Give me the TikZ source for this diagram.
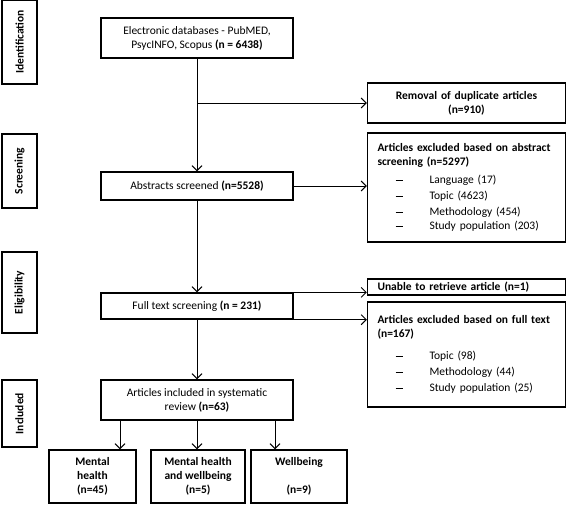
\documentclass[tikz,border=0pt]{standalone}
\usepackage{fontspec}
\setmainfont{Carlito}
\usetikzlibrary{arrows.meta, positioning}
\tikzset{every node/.style={font=\fontsize{11.5}{14}\selectfont}}
\newcommand{\li}[1]{\hspace*{18pt}\makebox[34pt][l]{\rule[3pt]{7pt}{1.1pt}}#1}

\begin{document}
\begin{tikzpicture}[x=1pt, y=-1pt, >={Straight Barb[length=5pt,width=10pt]},
  box/.style={draw, line width=1.3pt, align=center, inner sep=1pt},
  phase/.style={draw, line width=1.4pt, rotate=90, minimum height=35pt, inner sep=1pt, font=\fontsize{11.5}{14}\selectfont\bfseries},
  side/.style={box, minimum width=198pt, text width=178pt, inner xsep=10pt},
  leaf/.style={box, minimum height=53pt, font=\fontsize{11.5}{14}\selectfont\bfseries},
  conn/.style={->, line width=1pt}]
\useasboundingbox (0,0) rectangle (567,504);
\node[phase, minimum width=84pt] (pid) at (19.5,42) {Identification};
\node[phase, minimum width=74pt] (psc) at (19.5,171) {Screening};
\node[phase, minimum width=81pt] (pel) at (19.5,292.5) {Eligibility};
\node[phase, minimum width=67pt] (pin) at (19.5,413.5) {Included};
\node[box, minimum width=192pt, minimum height=40pt] (db) at (197,38) {Electronic databases - PubMED,\\PsycINFO, Scopus \textbf{(n = 6438)}};
\node[box, minimum width=192pt, minimum height=28pt] (abs) at (197,186) {Abstracts screened \textbf{(n=5528)}};
\node[box, minimum width=192pt, minimum height=26pt] (full) at (197,306) {Full text screening \textbf{(n = 231)}};
\node[box, minimum width=192pt, minimum height=40pt] (incl) at (197,400) {Articles included in systematic\\review \textbf{(n=63)}};
\node[side, minimum height=40pt, font=\fontsize{11.5}{14}\selectfont\bfseries] (rem) at (466.5,103) {Removal of duplicate articles\\(n=910)};
\node[side, minimum height=109pt, align=left] (exa) at (466.5,187.5) {\textbf{\mbox{Articles excluded based on abstract}}\\\textbf{screening (n=5297)}\\[4pt]\li{Language (17)}\\[2pt]\li{Topic (4623)}\\[2pt]\li{Methodology (454)}\\\li{Study population (203)}};
\node[side, minimum height=16pt, align=left, font=\fontsize{11.5}{14}\selectfont\bfseries] (unab) at (466.5,287) {Unable to retrieve article (n=1)};
\node[side, minimum height=105pt, align=left] (exf) at (466.5,354.5) {\textbf{\mbox{Articles excluded based on full text}}\\\textbf{(n=167)}\\[8pt]\li{Topic (98)}\\[2pt]\li{Methodology (44)}\\[2pt]\li{Study population (25)}};
\node[leaf, minimum width=87pt] (mh) at (92.5,476.5) {Mental\\health\\(n=45)};
\node[leaf, minimum width=94pt] (mhw) at (198,476.5) {Mental health\\and wellbeing\\(n=5)};
\node[leaf, minimum width=96pt] (wb) at (299,476.5) {Wellbeing\\\mbox{}\\(n=9)};
\coordinate (br) at (197,103);
\draw[conn] (db) -- (abs);
\draw[line width=1pt, ->] (br) -- (rem);
\draw[conn] (abs.east) -- (abs.east -| exa.west);
\draw[conn] (abs) -- (full);
\draw[conn] (full.north east) -- (full.north east -| unab.west);
\draw[conn] (full.south east) -- (full.south east -| exf.west);
\draw[conn] (full) -- (incl);
\draw[conn] ([xshift=-77pt]incl.south) -- ([xshift=-77pt]incl.south |- mh.north);
\draw[conn] (incl.south) -- (incl.south |- mhw.north);
\draw[conn] ([xshift=78pt]incl.south) -- ([xshift=78pt]incl.south |- wb.north);
\end{tikzpicture}
\end{document}
